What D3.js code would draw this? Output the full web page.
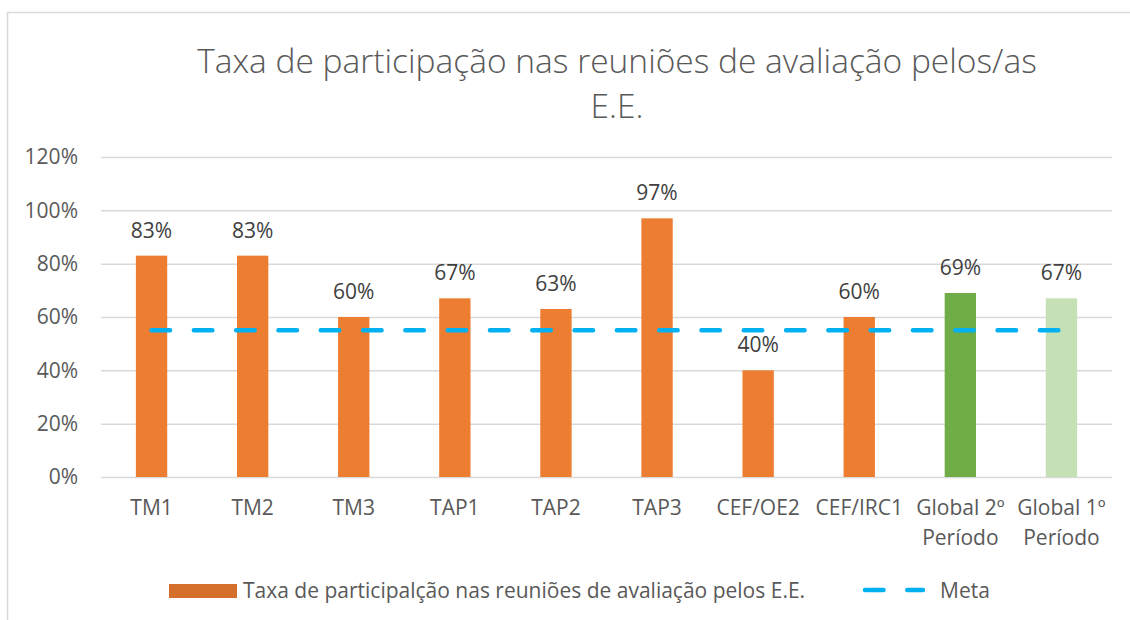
<!DOCTYPE html>
<html>
<head>
<meta charset="utf-8">
<script src="https://cdn.jsdelivr.net/npm/d3@7"></script>
<style>
  body { margin: 0; background: #fff; }
  svg { display: block; }
  text { font-family: "Open Sans", sans-serif; }
</style>
</head>
<body>
<svg id="chart" width="1130" height="620"></svg>
<script>
const categories = ["TM1", "TM2", "TM3", "TAP1", "TAP2", "TAP3", "CEF/OE2", "CEF/IRC1", "Global 2º\nPeríodo", "Global 1º\nPeríodo"];
const values = [83, 83, 60, 67, 63, 97, 40, 60, 69, 67];
const barColors = ["#ED7D31", "#ED7D31", "#ED7D31", "#ED7D31", "#ED7D31", "#ED7D31", "#ED7D31", "#ED7D31", "#70AD47", "#C5E0B4"];
const metaValue = 55;
const yTicks = [0, 20, 40, 60, 80, 100, 120];
const titleLines = ["Taxa de participação nas reuniões de avaliação pelos/as", "E.E."];
const legendLabels = ["Taxa de participalção nas reuniões de avaliação pelos E.E.", "Meta"];

const svg = d3.select("#chart");

// outer frame
svg.append("path")
  .attr("d", "M7.5,620 L7.5,12.5 L1130,12.5")
  .attr("fill", "none").attr("stroke", "#d9d9d9").attr("stroke-width", 1.5);

const x = d3.scaleBand().domain(categories).range([101, 1112]).paddingInner(0.69).paddingOuter(0.345);
const y = d3.scaleLinear().domain([0, 120]).range([477, 157]);

// title
svg.append("g").selectAll("text").data(titleLines).join("text")
  .attr("x", 617).attr("y", (d, i) => 73 + i * 45)
  .attr("text-anchor", "middle")
  .attr("font-size", 33.5).attr("fill", "#595959")
  .attr("font-weight", 300)
  .text(d => d);

// grid + y axis
const yAxis = d3.axisLeft(y).tickValues(yTicks).tickFormat(d => d + "%").tickSize(-(1112 - 101)).tickPadding(23);
const gy = svg.append("g").attr("transform", "translate(101,0)").call(yAxis);
gy.select(".domain").remove();
gy.selectAll(".tick line").attr("stroke", "#d9d9d9").attr("stroke-width", 1.5);
gy.selectAll(".tick text").attr("font-size", 21).attr("fill", "#595959").attr("font-family", "'Open Sans', sans-serif");

// bars
svg.append("g").selectAll("rect").data(values).join("rect")
  .attr("x", (d, i) => x(categories[i]))
  .attr("y", d => y(d))
  .attr("width", x.bandwidth())
  .attr("height", d => y(0) - y(d))
  .attr("fill", (d, i) => barColors[i]);

// data labels
svg.append("g").selectAll("text").data(values).join("text")
  .attr("x", (d, i) => x(categories[i]) + x.bandwidth() / 2)
  .attr("y", d => y(d) - 18)
  .attr("text-anchor", "middle")
  .attr("font-size", 21).attr("fill", "#404040")
  .text(d => d + "%");

// x axis labels
const xAxis = d3.axisBottom(x).tickSize(0).tickFormat("");
const gx = svg.append("g").attr("transform", "translate(0,477)").call(xAxis);
gx.select(".domain").remove();
gx.selectAll(".tick").each(function(d) {
  const t = d3.select(this).append("text").attr("text-anchor", "middle")
    .attr("font-size", 21).attr("fill", "#595959");
  d.split("\n").forEach((line, i) => {
    t.append("tspan").attr("x", 0).attr("y", 38 + i * 30).text(line);
  });
});

// meta line
const metaLine = d3.line().x(c => x(c) + x.bandwidth() / 2).y(() => y(metaValue));
svg.append("path")
  .datum(categories)
  .attr("d", metaLine)
  .attr("fill", "none").attr("stroke", "#00B0F0").attr("stroke-width", 4.5)
  .attr("stroke-linecap", "round").attr("stroke-dasharray", "18.5 23.8");

// legend
const lg = svg.append("g");
lg.append("rect").attr("x", 169).attr("y", 584).attr("width", 68).attr("height", 14).attr("fill", "#D4702B");
lg.append("text").attr("x", 243).attr("y", 598).attr("font-size", 21).attr("fill", "#595959").text(legendLabels[0]);
lg.append("line").attr("x1", 865).attr("x2", 923).attr("y1", 590).attr("y2", 590)
  .attr("stroke", "#00B0F0").attr("stroke-width", 4.5).attr("stroke-linecap", "round").attr("stroke-dasharray", "18.5 23.8");
lg.append("text").attr("x", 940).attr("y", 598).attr("font-size", 21).attr("fill", "#595959").text(legendLabels[1]);
</script>
</body>
</html>
